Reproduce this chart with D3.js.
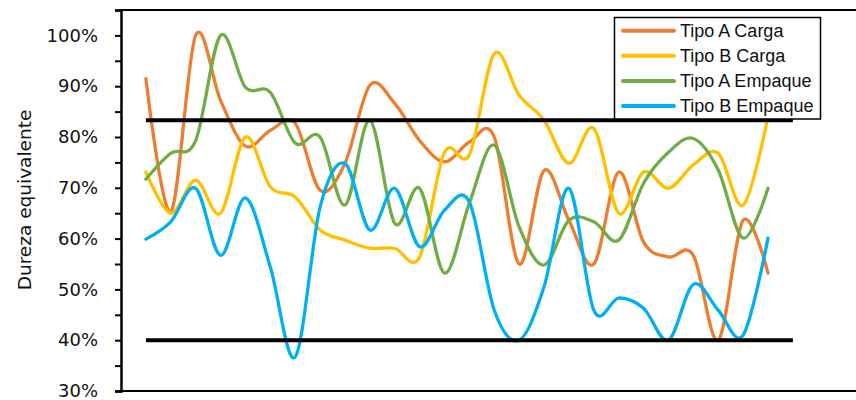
<!DOCTYPE html>
<html>
<head>
<meta charset="utf-8">
<script src="https://cdn.jsdelivr.net/npm/d3@7"></script>
<style>
  html, body { margin: 0; padding: 0; background: #fff; }
  svg { display: block; }
</style>
</head>
<body>
<svg id="chart" width="856" height="400"></svg>
<script>
// ---- data ----
const seriesNames = ["Tipo A Carga", "Tipo B Carga", "Tipo A Empaque", "Tipo B Empaque"];
const seriesColors = ["#ED7D31", "#FFC000", "#70AD47", "#00B0F0"];

const tipoACarga = [0.915, 0.653, 1.00, 0.872, 0.782, 0.813, 0.827, 0.695, 0.748, 0.902, 0.866, 0.793, 0.751, 0.790, 0.800, 0.550, 0.734, 0.636, 0.550, 0.731, 0.593, 0.564, 0.567, 0.400, 0.636, 0.532];
const tipoBCarga = [0.731, 0.650, 0.715, 0.650, 0.800, 0.702, 0.682, 0.617, 0.597, 0.581, 0.581, 0.564, 0.770, 0.765, 0.964, 0.882, 0.833, 0.748, 0.817, 0.650, 0.731, 0.699, 0.745, 0.768, 0.666, 0.840];
const tipoAEmpaque = [0.717, 0.768, 0.793, 1.00, 0.898, 0.888, 0.788, 0.800, 0.666, 0.833, 0.630, 0.699, 0.532, 0.670, 0.784, 0.623, 0.548, 0.636, 0.633, 0.597, 0.709, 0.770, 0.797, 0.735, 0.601, 0.699];
const tipoBEmpaque = [0.599, 0.633, 0.699, 0.567, 0.680, 0.544, 0.367, 0.662, 0.748, 0.617, 0.699, 0.584, 0.656, 0.672, 0.459, 0.400, 0.505, 0.699, 0.459, 0.483, 0.463, 0.400, 0.510, 0.459, 0.410, 0.601];

const upperLimit = 0.833;
const lowerLimit = 0.40;
const limitCount = 27; // limit lines run one category further

const yTicks = [0.3, 0.35, 0.4, 0.45, 0.5, 0.55, 0.6, 0.65, 0.7, 0.75, 0.8, 0.85, 0.9, 0.95, 1.0, 1.05];
const yLabelled = [0.3, 0.4, 0.5, 0.6, 0.7, 0.8, 0.9, 1.0];
const yTitle = "Dureza equivalente";

const allSeries = [tipoACarga, tipoBCarga, tipoAEmpaque, tipoBEmpaque];

// ---- drawing ----
const svg = d3.select("#chart");

const x = d3.scaleLinear().domain([-1, 25]).range([121, 768]);
const y = d3.scaleLinear().domain([0.3, 1.05]).range([391, 10]);

// top & bottom frame lines
svg.append("g").selectAll("line")
  .data([1.05, 0.3]).join("line")
  .attr("x1", 121).attr("x2", 856)
  .attr("y1", d => y(d)).attr("y2", d => y(d))
  .attr("stroke", "#000").attr("stroke-width", 2);

// y axis
const yAxis = d3.axisLeft(y)
  .tickValues(yTicks)
  .tickSize(6)
  .tickPadding(17)
  .tickFormat(d => yLabelled.some(v => Math.abs(v - d) < 1e-9) ? Math.round(d * 100) + "%" : "");

const gy = svg.append("g").attr("transform", "translate(121,0)").call(yAxis);
gy.select(".domain").attr("stroke", "#000").attr("stroke-width", 2.5);
gy.selectAll(".tick line").attr("stroke", "#000").attr("stroke-width", 2);
gy.selectAll(".tick text")
  .attr("fill", "#111")
  .style("font-family", "'DejaVu Sans', sans-serif")
  .style("font-size", "18px");

// y title
svg.append("text")
  .attr("transform", "translate(31,200) rotate(-90)")
  .attr("text-anchor", "middle")
  .style("font-family", "'DejaVu Sans', sans-serif")
  .style("font-size", "18.5px")
  .attr("fill", "#111")
  .text(yTitle);

// series
const line = d3.line()
  .x((d, i) => x(i))
  .y(d => y(d))
  .curve(d3.curveCatmullRom.alpha(0));

svg.append("g").selectAll("path")
  .data(allSeries).join("path")
  .attr("d", d => line(d))
  .attr("fill", "none")
  .attr("stroke", (d, i) => seriesColors[i])
  .attr("stroke-width", 3.3)
  .attr("stroke-linecap", "round")
  .attr("stroke-linejoin", "round");

// limit lines
const limitLine = d3.line().x((d, i) => x(i)).y(d => y(d));
svg.append("g").selectAll("path")
  .data([upperLimit, lowerLimit].map(v => d3.range(limitCount).map(() => v)))
  .join("path")
  .attr("d", d => limitLine(d))
  .attr("fill", "none")
  .attr("stroke", "#000")
  .attr("stroke-width", 4);

// legend
const lg = svg.append("g");
lg.append("rect")
  .attr("x", 614.5).attr("y", 17.5).attr("width", 206).attr("height", 101.5)
  .attr("fill", "#fff").attr("stroke", "#000").attr("stroke-width", 1.5);
const items = lg.selectAll("g.item").data(seriesNames).join("g")
  .attr("class", "item")
  .attr("transform", (d, i) => `translate(0,${30.7 + i * 25.1})`);
items.append("line")
  .attr("x1", 623).attr("x2", 674).attr("y1", 0).attr("y2", 0)
  .attr("stroke", (d, i) => seriesColors[i])
  .attr("stroke-width", 4).attr("stroke-linecap", "round");
items.append("text")
  .attr("x", 680).attr("y", 0).attr("dy", "0.35em")
  .style("font-family", "'Liberation Sans', Arial, sans-serif")
  .style("font-size", "18px")
  .attr("fill", "#111")
  .text(d => d);
</script>
</body>
</html>
